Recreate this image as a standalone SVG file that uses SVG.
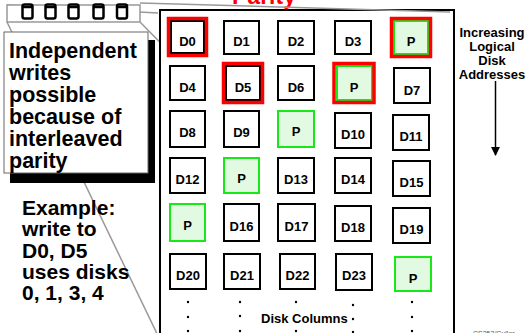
<svg xmlns="http://www.w3.org/2000/svg" width="529" height="333" viewBox="0 0 529 333">
<defs>
<style>
text{font-family:"Liberation Sans",Arial,sans-serif;font-weight:bold;fill:#000}
.cell{fill:#fff;stroke:#000;stroke-width:2}
.par{fill:#e2f9e2;stroke:#18e818;stroke-width:2}
.hl{fill:none;stroke:#f00;stroke-width:3.5}
.ct{font-size:13px;text-anchor:middle}
.big{font-size:21.5px}
.ex{font-size:21px}
.gl{stroke:#999;stroke-width:1.5;fill:none}
.dot{fill:#000}
.icon{fill:#fff;stroke:#000;stroke-width:2.5}
</style>
<marker id="ah" viewBox="0 0 10 10" refX="9" refY="5" markerWidth="9" markerHeight="9" markerUnits="userSpaceOnUse" orient="auto">
<path d="M0,0 L10,5 L0,10 z" fill="#000"/>
</marker>
</defs>
<rect width="529" height="333" fill="#fff"/>

<text x="264" y="4" style="font-size:23px;fill:#f00;text-anchor:middle">Parity</text>

<g id="connectors">
<line class="gl" x1="7" y1="5" x2="158" y2="13"/>
<line class="gl" x1="7" y1="22" x2="161" y2="342"/>
<line class="gl" x1="140" y1="22" x2="455" y2="342"/>
</g>

<g id="disk-strip">
<rect x="7" y="5" width="133" height="17" fill="#fff" stroke="#999" stroke-width="1.5"/>
<rect class="icon" x="22.5" y="4.5" width="10" height="14" rx="2"/><line x1="22" y1="7" x2="33" y2="7" stroke="#000" stroke-width="2.5"/>
<rect class="icon" x="45.5" y="4.5" width="10" height="14" rx="2"/><line x1="45" y1="7" x2="56" y2="7" stroke="#000" stroke-width="2.5"/>
<rect class="icon" x="68.5" y="4.5" width="10" height="14" rx="2"/><line x1="68" y1="7" x2="79" y2="7" stroke="#000" stroke-width="2.5"/>
<rect class="icon" x="93.5" y="4.5" width="10" height="14" rx="2"/><line x1="93" y1="7" x2="104" y2="7" stroke="#000" stroke-width="2.5"/>
<rect class="icon" x="117" y="4.5" width="10" height="14" rx="2"/><line x1="116.5" y1="7" x2="127.5" y2="7" stroke="#000" stroke-width="2.5"/>
</g>

<g id="main-box">
<rect x="160" y="10" width="294" height="340" fill="#fff" stroke="#000" stroke-width="2"/>
</g>
<line class="gl" x1="140" y1="3" x2="450" y2="12"/>

<g id="callout">
<rect x="10" y="40" width="145" height="143" fill="#000"/>
<rect x="4" y="32" width="144" height="141" fill="#fff" stroke="#666" stroke-width="1"/>
<text class="big" x="9" y="58">Independent</text>
<text class="big" x="9" y="80">writes</text>
<text class="big" x="9" y="102">possible</text>
<text class="big" x="9" y="124">because of</text>
<text class="big" x="9" y="146">interleaved</text>
<text class="big" x="9" y="168">parity</text>
</g>

<g id="example">
<text class="ex" x="22" y="215">Example:</text>
<text class="ex" x="22" y="236">write to</text>
<text class="ex" x="22" y="258">D0, D5</text>
<text class="ex" x="22" y="279">uses disks</text>
<text class="ex" x="22" y="300">0, 1, 3, 4</text>
</g>

<g id="row0">
<g id="D0"><rect class="cell" x="171" y="21" width="33" height="32"/><rect class="hl" x="168.5" y="18.5" width="38" height="37"/><text class="ct" x="187.5" y="46">D0</text></g>
<g id="D1"><rect class="cell" x="224" y="21" width="35" height="33"/><text class="ct" x="241.5" y="46">D1</text></g>
<g id="D2"><rect class="cell" x="278" y="21" width="36" height="33"/><text class="ct" x="296" y="46">D2</text></g>
<g id="D3"><rect class="cell" x="335" y="21" width="36" height="33"/><text class="ct" x="353" y="46">D3</text></g>
<g id="P0"><rect class="par" x="394" y="21" width="34" height="33"/><rect class="hl" x="391.5" y="18.5" width="39" height="38"/><text class="ct" x="411" y="46">P</text></g>
</g>

<g id="row1">
<g id="D4"><rect class="cell" x="170" y="66" width="35" height="34"/><text class="ct" x="187.5" y="92">D4</text></g>
<g id="D5"><rect class="cell" x="226" y="66" width="34" height="34"/><rect class="hl" x="223.5" y="63.5" width="39" height="39"/><text class="ct" x="243" y="92">D5</text></g>
<g id="D6"><rect class="cell" x="278" y="66" width="36" height="34"/><text class="ct" x="296" y="92">D6</text></g>
<g id="P1"><rect class="par" x="337" y="66" width="35" height="34"/><rect class="hl" x="334" y="63.5" width="40" height="39"/><text class="ct" x="354" y="92">P</text></g>
<g id="D7"><rect class="cell" x="394" y="68" width="36" height="35"/><text class="ct" x="412" y="95">D7</text></g>
</g>

<g id="row2">
<g id="D8"><rect class="cell" x="170" y="111" width="35" height="36"/><text class="ct" x="187.5" y="137">D8</text></g>
<g id="D9"><rect class="cell" x="224" y="111" width="35" height="36"/><text class="ct" x="241.5" y="137">D9</text></g>
<g id="P2"><rect class="par" x="278" y="111" width="36" height="36"/><text class="ct" x="296" y="136">P</text></g>
<g id="D10"><rect class="cell" x="335" y="113" width="36" height="35"/><text class="ct" x="353" y="139">D10</text></g>
<g id="D11"><rect class="cell" x="393" y="115" width="36" height="35"/><text class="ct" x="411" y="141">D11</text></g>
</g>

<g id="row3">
<g id="D12"><rect class="cell" x="170" y="158" width="35" height="35"/><text class="ct" x="187.5" y="184">D12</text></g>
<g id="P3"><rect class="par" x="224" y="158" width="35" height="35"/><text class="ct" x="241.5" y="183">P</text></g>
<g id="D13"><rect class="cell" x="278" y="158" width="36" height="35"/><text class="ct" x="296" y="184">D13</text></g>
<g id="D14"><rect class="cell" x="335" y="158" width="36" height="35"/><text class="ct" x="353" y="184">D14</text></g>
<g id="D15"><rect class="cell" x="393" y="161" width="37" height="35"/><text class="ct" x="411.5" y="187">D15</text></g>
</g>

<g id="row4">
<g id="P4"><rect class="par" x="170" y="204" width="35" height="37"/><text class="ct" x="187.5" y="230">P</text></g>
<g id="D16"><rect class="cell" x="224" y="204" width="35" height="37"/><text class="ct" x="241.5" y="231">D16</text></g>
<g id="D17"><rect class="cell" x="278" y="204" width="37" height="37"/><text class="ct" x="296.5" y="231">D17</text></g>
<g id="D18"><rect class="cell" x="335" y="206" width="36" height="35"/><text class="ct" x="353" y="232">D18</text></g>
<g id="D19"><rect class="cell" x="393" y="208" width="37" height="35"/><text class="ct" x="411.5" y="234">D19</text></g>
</g>

<g id="row5">
<g id="D20"><rect class="cell" x="170" y="254" width="36" height="35"/><text class="ct" x="188" y="280">D20</text></g>
<g id="D21"><rect class="cell" x="224" y="254" width="36" height="35"/><text class="ct" x="242" y="280">D21</text></g>
<g id="D22"><rect class="cell" x="280" y="254" width="35" height="35"/><text class="ct" x="297.5" y="280">D22</text></g>
<g id="D23"><rect class="cell" x="336" y="254" width="36" height="36"/><text class="ct" x="354" y="280">D23</text></g>
<g id="P5"><rect class="par" x="395" y="257" width="36" height="34"/><text class="ct" x="413" y="283">P</text></g>
</g>

<g id="dots">
<circle class="dot" cx="188" cy="302" r="1.2"/><circle class="dot" cx="188" cy="317" r="1.2"/><circle class="dot" cx="188" cy="331" r="1.2"/>
<circle class="dot" cx="240" cy="302" r="1.2"/><circle class="dot" cx="240" cy="316" r="1.2"/><circle class="dot" cx="240" cy="331" r="1.2"/>
<circle class="dot" cx="296" cy="302" r="1.2"/><circle class="dot" cx="296" cy="331" r="1.2"/>
<circle class="dot" cx="353" cy="305" r="1.2"/><circle class="dot" cx="353" cy="319" r="1.2"/><circle class="dot" cx="353" cy="332" r="1.2"/>
<circle class="dot" cx="412" cy="302" r="1.2"/><circle class="dot" cx="412" cy="317" r="1.2"/><circle class="dot" cx="412" cy="331" r="1.2"/>
</g>
<text x="261" y="323" style="font-size:13px">Disk Columns</text>

<g id="axis-label">
<text class="ct" x="492" y="37">Increasing</text>
<text class="ct" x="492" y="51">Logical</text>
<text class="ct" x="492" y="65">Disk</text>
<text class="ct" x="492" y="79">Addresses</text>
<line x1="495.5" y1="81" x2="495.5" y2="155" stroke="#000" stroke-width="1.5" marker-end="url(#ah)"/>
</g>

<text x="473" y="336" style="font-size:7px;font-weight:normal;fill:#555">CS252/Culler</text>
</svg>
